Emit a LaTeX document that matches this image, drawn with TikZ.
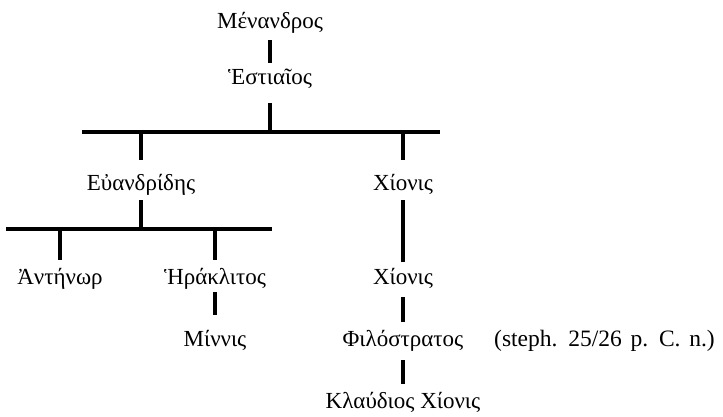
\documentclass[tikz,border=0pt]{standalone}
\usepackage{fontspec}
\setmainfont{Liberation Serif}
\newfontfamily\latinwide[WordSpace=1.5]{Liberation Serif}
\begin{document}
\begin{tikzpicture}[x=1pt,y=-1pt,
  person/.style={font=\fontsize{23}{23}\selectfont, inner sep=0pt, text height=17pt, text depth=5pt, anchor=base},
  conn/.style={line width=4.5pt},
  bar/.style={line width=3.5pt}]
\useasboundingbox[fill=white] (0,0) rectangle (723,416);
% people
\node[person] (men) at (270,28) {Μένανδρος};
\node[person] (est) at (270,84) {Ἑστιαῖος};
\node[person] (eua) at (141,190) {Εὐανδρίδης};
\node[person] (chi1) at (403,190) {Χίονις};
\node[person] (ant) at (60,284) {Ἀντήνωρ};
\node[person] (her) at (215,284) {Ἡράκλιτος};
\node[person] (min) at (215,346) {Μίννις};
\node[person] (chi2) at (403,284) {Χίονις};
\node[person] (phi) at (403,346) {Φιλόστρατος};
\node[person, anchor=base west, font=\latinwide\fontsize{23.5}{23.5}\selectfont] (steph) at (494,346) {(steph. 25/26 p. C. n.)};
\node[person] (kla) at (403,408) {Κλαύδιος Χίονις};
% bars
\coordinate (b1) at (270,132);
\coordinate (b1l) at (82,132);
\coordinate (b1r) at (440,132);
\coordinate (b2) at (141,229);
\coordinate (b2l) at (6,229);
\coordinate (b2r) at (272,229);
\draw[bar] (b1l) -- (b1r);
\draw[bar] (b2l) -- (b2r);
% connectors
\draw[conn, shorten <=7pt, shorten >=4pt] (men.south) -- (est.north);
\draw[conn, shorten <=14pt] (est.south) -- (b1);
\draw[conn, shorten >=13pt] (eua.north |- b1) -- (eua.north);
\draw[conn, shorten >=13pt] (chi1.north |- b1) -- (chi1.north);
\draw[conn, shorten <=5pt] (eua.south) -- (b2);
\draw[conn, shorten >=7pt] (ant.north |- b2) -- (ant.north);
\draw[conn, shorten >=7pt] (her.north |- b2) -- (her.north);
\draw[conn, shorten <=3pt, shorten >=14pt] (her.south) -- (min.north);
\draw[conn, shorten <=5pt, shorten >=5pt] (chi1.south) -- (chi2.north);
\draw[conn, shorten <=8pt, shorten >=7pt] (chi2.south) -- (phi.north);
\draw[conn, shorten <=9pt, shorten >=7pt] (phi.south) -- (kla.north);
\end{tikzpicture}
\end{document}
